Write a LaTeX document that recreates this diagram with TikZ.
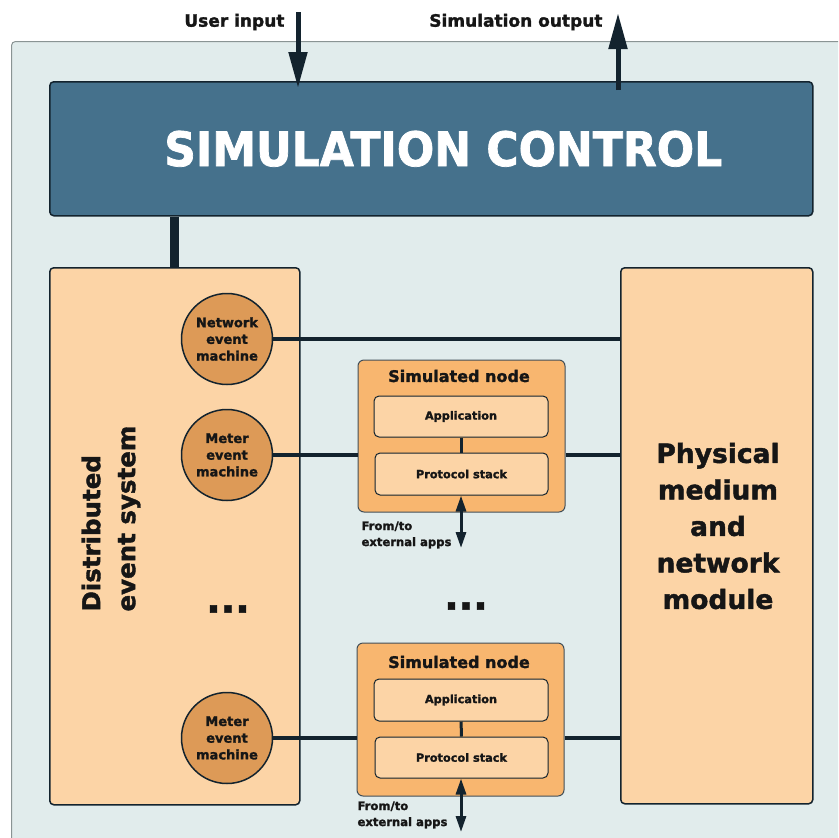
\documentclass[tikz,border=0pt]{standalone}
\usepackage{fontspec}
\setmainfont{DejaVu Sans}[BoldFeatures={FakeBold=1.6}]
\usetikzlibrary{arrows.meta}

\definecolor{panelfill}{HTML}{E1ECEC}
\definecolor{panelline}{HTML}{8A9494}
\definecolor{ctrlfill}{HTML}{45718C}
\definecolor{ink}{HTML}{13232E}
\definecolor{peach}{HTML}{FCD4A6}
\definecolor{machinefill}{HTML}{DD9A57}
\definecolor{simfill}{HTML}{F8B66F}
\definecolor{txt}{HTML}{161616}

\tikzset{
  fs/.style 2 args={font=\bfseries\fontsize{#1}{#2}\selectfont},
  panelbox/.style={draw=panelline, line width=1pt, fill=panelfill, rounded corners=4pt},
  ctrlbox/.style={draw=ink, line width=1.5pt, fill=ctrlfill, rounded corners=4pt,
    text=white, fs={44}{50}},
  block/.style={draw=ink, line width=1.5pt, fill=peach, rounded corners=4pt},
  machine/.style={circle, draw=ink, line width=1.5pt, fill=machinefill, minimum size=91pt,
    inner sep=0pt, align=center, text=txt, fs={13}{16.7}},
  simbox/.style={draw=ink!80, line width=1pt, fill=simfill, rounded corners=6pt},
  layerbox/.style={draw=ink, line width=1pt, fill=peach, rounded corners=5pt,
    text=txt, fs={11.3}{13}},
  title/.style={text=txt, fs={16}{18}},
  note/.style={text=txt, align=left, fs={11.6}{16}},
  toplbl/.style={text=txt, fs={17}{20}},
  dots/.style={text=txt, fs={38}{40}},
  bus/.style={draw=ink, line width=4pt},
  link/.style={draw=ink, line width=3pt},
  bigarrow/.style={draw=ink, line width=5pt, -{Triangle[width=18pt,length=36pt]}},
  extarrow/.style={draw=ink, line width=3pt, {Triangle[width=10pt,length=16pt]}-{Triangle[width=10pt,length=16pt]}},
}

\begin{document}
\begin{tikzpicture}[x=1pt,y=-1pt]
\useasboundingbox (0,0) rectangle (838,838);
\clip (0,0) rectangle (838,838);

% enclosing panel, running off the right and bottom edges
\node[panelbox, anchor=north west, minimum width=850pt, minimum height=820pt] (panel) at (11,41) {};

% simulation control
\node[ctrlbox, anchor=north west, minimum width=763pt, minimum height=134pt, inner sep=0pt] (ctrl) at (49,81) {\hspace*{24pt}\scalebox{1}[1.08]{SIMULATION CONTROL}};

% top inputs / outputs
\coordinate (uin) at (298,12);
\coordinate (sout) at (618,13);
\node[toplbl, anchor=east] (uinlbl) at (288,22) {User input};
\node[toplbl, anchor=east] (soutlbl) at (606,22) {Simulation output};
\draw[bigarrow] (uin) -- ([yshift=-7pt]uin |- ctrl.north);
\draw[bigarrow] ([yshift=-9pt]sout |- ctrl.north) -- (sout);

% distributed event system
\node[block, anchor=north west, minimum width=250pt, minimum height=537pt] (des) at (49,267) {};
\node[rotate=90, anchor=west, align=left, text=txt, fs={24.5}{35}] (deslbl) at (111,615) {Distributed\\event system};

% physical medium block
\node[block, anchor=north west, minimum width=192pt, minimum height=536pt] (phys) at (620,267) {};
\node[align=center, text=txt, fs={26.5}{36.5}] (physlbl) at (718,526) {Physical\\medium\\and\\network\\module};

% control to event system
\coordinate (busx) at (174,0);
\draw[draw=ink, line width=9pt] (busx |- ctrl.south) -- (busx |- des.north);

% event machines
\node[machine] (m1) at (227,339) {Network\\event\\machine};
\node[machine] (m2) at (227,455) {Meter\\event\\machine};
\node[machine] (m3) at (227,738) {Meter\\event\\machine};
\node[dots] (desdots) at (228,609) {...};
\node[dots] (middots) at (466,606) {...};

% simulated node 1
\node[simbox, minimum width=207pt, minimum height=152pt] (s1) at (461.5,436) {};
\node[title] (s1t) at (459,376) {Simulated node};
\node[layerbox, minimum width=174pt, minimum height=41pt] (s1a) at (461,416.5) {Application};
\node[layerbox, minimum width=173pt, minimum height=42pt] (s1p) at (461.5,474) {Protocol stack};

% simulated node 2
\node[simbox, minimum width=207pt, minimum height=153pt] (s2) at (460.5,719.5) {};
\node[title] (s2t) at (459,662) {Simulated node};
\node[layerbox, minimum width=174pt, minimum height=42pt] (s2a) at (461,700) {Application};
\node[layerbox, minimum width=173pt, minimum height=41pt] (s2p) at (461.5,757.5) {Protocol stack};

% links
\draw[bus] (m1.east) -- (m1.east -| phys.west);
\draw[bus] (m2.east) -- (m2.east -| s1.west);
\draw[bus] (s1.east |- m2.east) -- (phys.west |- m2.east);
\draw[bus] (m3.east) -- (m3.east -| s2.west);
\draw[bus] (s2.east |- m3.east) -- (phys.west |- m3.east);
\draw[link] (s1a.south -| 461,0) -- (s1p.north -| 461,0);
\draw[link] (s2a) -- (s2p);

% external application ports
\coordinate (ext1) at (461,548);
\coordinate (ext2) at (461,832);
\draw[extarrow] (s1p.south -| ext1) -- (ext1);
\draw[extarrow] (s2p.south -| ext2) -- (ext2);
\node[note, anchor=west] (ext1lbl) at (358,535) {From/to\\external apps};
\node[note, anchor=west] (ext2lbl) at (354,815) {From/to\\external apps};
\end{tikzpicture}
\end{document}
